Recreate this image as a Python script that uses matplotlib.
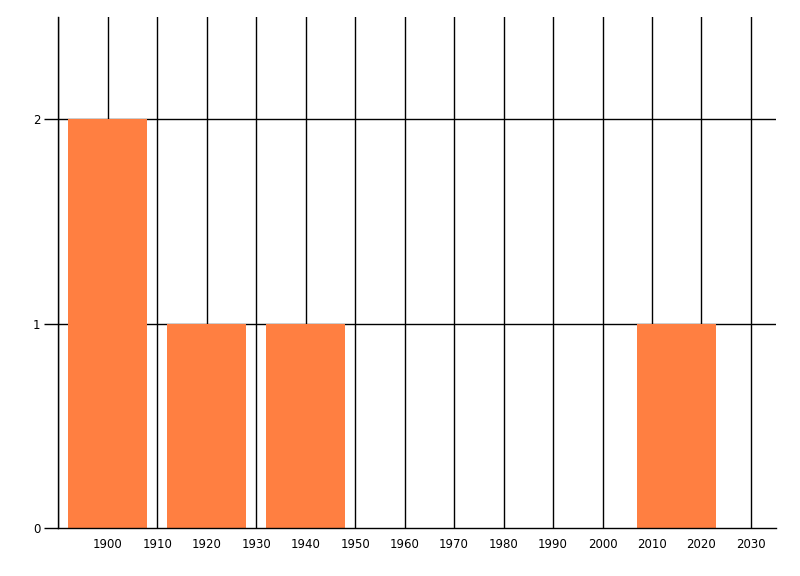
import matplotlib
matplotlib.use("Agg")
import matplotlib.pyplot as plt

# Data
bar_centers = [1900, 1920, 1940, 2015]
bar_counts = [2, 1, 1, 1]
bar_width = 16
x_ticks = list(range(1900, 2031, 10))
x_grid = list(range(1890, 2031, 10))
y_ticks = [0, 1, 2]

plt.rcParams['font.family'] = ['DejaVu Sans']

fig = plt.figure(figsize=(8, 5.76), dpi=100)
ax = fig.add_axes([58.3/800, 1 - 528.3/576, (775.7-58.3)/800, (528.3-17)/576])

ax.set_xlim(1890, 2035)
ax.set_ylim(0, 2.5)

for xg in x_grid:
    ax.axvline(xg, color='black', linewidth=1.0, zorder=1)
for yg in y_ticks[1:]:
    ax.axhline(yg, color='black', linewidth=1.0, zorder=1)

ax.bar(bar_centers, bar_counts, width=bar_width, color='#FF7F41', zorder=2, linewidth=0)

ax.set_xticks(x_ticks)
ax.set_xticklabels([str(v) for v in x_ticks])
ax.set_yticks(y_ticks)
ax.set_yticklabels([str(v) for v in y_ticks])

ax.tick_params(axis='x', length=0, pad=7, labelsize=8.5, colors='black')
ax.tick_params(axis='y', length=10, width=1.0, pad=3, labelsize=8.5, colors='black')

for s in ['top', 'right']:
    ax.spines[s].set_visible(False)
for s in ['left', 'bottom']:
    ax.spines[s].set_linewidth(1.0)
    ax.spines[s].set_color('black')
    ax.spines[s].set_zorder(3)

fig.savefig('out.png', dpi=100, facecolor='white')
